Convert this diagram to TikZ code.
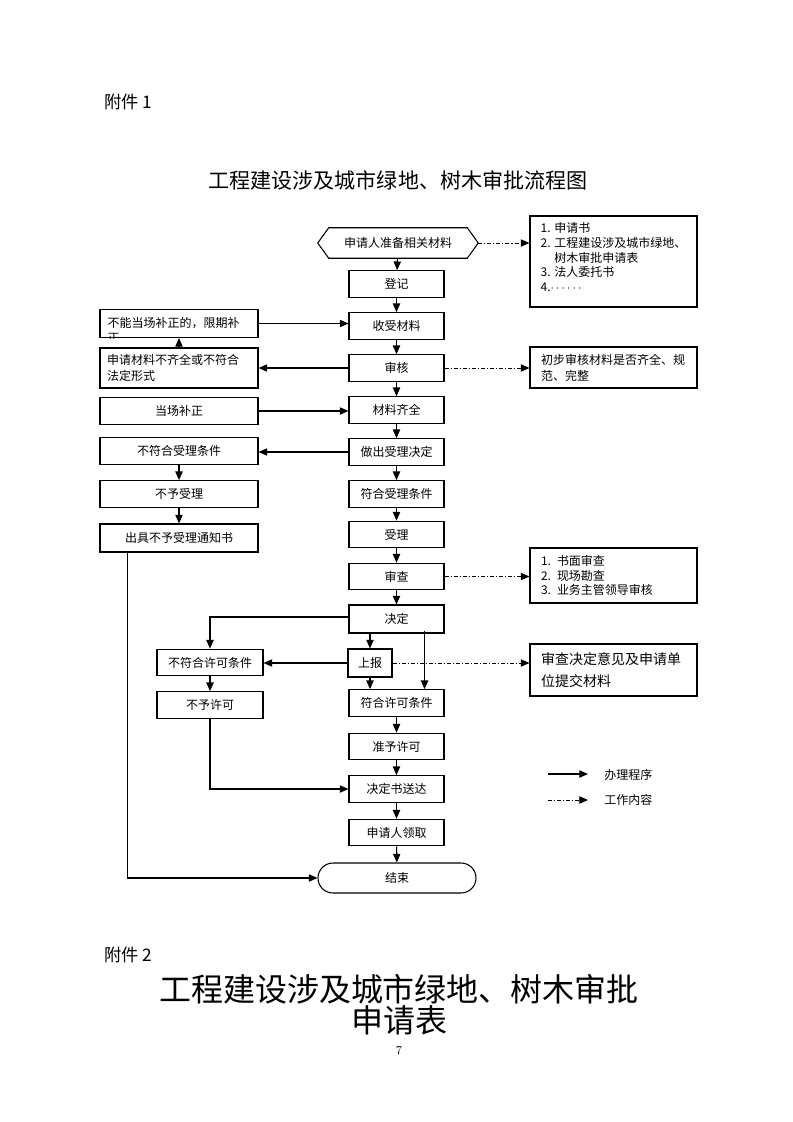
\documentclass[tikz,border=0pt]{standalone}
\usepackage{fontspec}
\newfontfamily\cjk{Noto Sans CJK SC}
\usetikzlibrary{arrows.meta,calc,shapes.misc}
\begin{document}
\begin{tikzpicture}[x=0.75pt,y=-0.75pt,
  txt/.style={font=\cjk\fontsize{9pt}{11pt}\selectfont},
  box/.style={txt,draw,line width=0.8pt,inner sep=0pt,minimum height=20pt},
  mainbox/.style={box,minimum width=71.25pt},
  leftbox/.style={box,minimum width=118.5pt},
  lbox/.style={box,minimum width=79.5pt},
  rbox/.style={box,minimum width=125.25pt},
  lefttext/.style={align=left,text width=108pt,inner xsep=5.25pt},
  flow/.style={line width=0.8pt,-{Triangle[length=6.5pt,width=5.5pt]}},
  work/.style={line width=0.6pt,dash pattern=on 3pt off 1.5pt on 0.8pt off 1.5pt,-{Triangle[length=6.5pt,width=5.5pt]}},
  plain/.style={line width=0.8pt}
  ]
\useasboundingbox (0,0) rectangle (793,1122);

% headings
\node[anchor=west,font=\cjk\fontsize{13pt}{15pt}\selectfont,inner sep=0pt] (fj1) at (104,102) {附件 1};
\node[font=\cjk\fontsize{15.8pt}{18pt}\selectfont,inner sep=0pt] (title) at (398,180) {工程建设涉及城市绿地、树木审批流程图};

% preparation hexagon
\node[txt,minimum width=120pt,minimum height=22.5pt,inner sep=0pt] (prep) at (398,243) {申请人准备相关材料};
\draw[plain] (prep.west) -- ($(prep.north west)+(11,0)$) -- ($(prep.north east)+(-11,0)$) -- (prep.east) -- ($(prep.south east)+(-11,0)$) -- ($(prep.south west)+(11,0)$) -- cycle;

% main column
\node[mainbox] (dengji) at (396.5,284) {登记};
\node[mainbox] (shoushou) at (396.5,326) {收受材料};
\node[mainbox] (shenhe) at (396.5,368) {审核};
\node[mainbox] (qiquan) at (396.5,410) {材料齐全};
\node[mainbox] (zuochu) at (396.5,452) {做出受理决定};
\node[mainbox] (fuheshouli) at (396.5,494) {符合受理条件};
\node[mainbox] (shouli) at (396.5,534.5) {受理};
\node[mainbox] (shencha) at (396.5,576.5) {审查};
\node[mainbox,minimum height=21pt] (jueding) at (396.5,619) {决定};
\node[box,minimum width=33pt,minimum height=21pt] (shangbao) at (370,663) {上报};
\node[mainbox] (fuhexuke) at (396.5,703) {符合许可条件};
\node[mainbox] (zhunyu) at (396.5,746.5) {准予许可};
\node[mainbox] (songda) at (396.5,789) {决定书送达};
\node[mainbox] (lingqu) at (396.5,832.5) {申请人领取};
\node[box,rounded rectangle,minimum width=118.5pt,minimum height=22.5pt] (jieshu) at (397,878) {结束};

% left column
\node[leftbox,minimum height=21pt] (buneng) at (179,323.5) {};
\begin{scope}
  \clip (buneng.south west) rectangle (buneng.north east);
  \node[txt,anchor=north west,align=left,inner sep=0pt] (bunengtext) at ($(buneng.north west)+(8,8)$) {不能当场补正的，限期补\\正};
\end{scope}
\node[leftbox,lefttext,minimum height=30pt,font=\cjk\fontsize{9pt}{12pt}\selectfont] (buqi) at (179,368) {申请材料不齐全或不符合\\法定形式};
\node[leftbox] (dangchang) at (179,411) {当场补正};
\node[leftbox] (bufushouli) at (179,451) {不符合受理条件};
\node[leftbox] (buyushouli) at (179,494) {不予受理};
\node[leftbox,minimum height=21pt] (chuju) at (179,538) {出具不予受理通知书};
\node[lbox] (bufuxuke) at (210,662.5) {不符合许可条件};
\node[lbox] (buyuxuke) at (210,705) {不予许可};

% right column
\node[rbox,minimum height=68.25pt] (list1) at (613.5,261.5) {};
\node[txt,anchor=north west,align=left,inner sep=0pt] (list1text) at ($(list1.north west)+(11,7)$) {1. 申请书\\2. 工程建设涉及城市绿地、\\\phantom{2. }树木审批申请表\\3. 法人委托书\\4.$\cdots\cdots$};
\node[rbox,lefttext,text width=108.75pt,inner xsep=8.25pt,minimum height=30.75pt,font=\cjk\fontsize{9pt}{12pt}\selectfont] (chubu) at (613.5,367.5) {初步审核材料是否齐全、规\\范、完整};
\node[rbox,lefttext,text width=108.75pt,inner xsep=8.25pt,minimum height=41.25pt] (list2) at (613.5,575.5) {1. 书面审查\\2. 现场勘查\\3. 业务主管领导审核};
\node[rbox,lefttext,text width=108.75pt,inner xsep=8.25pt,minimum height=39pt,font=\cjk\fontsize{10.5pt}{16.5pt}\selectfont] (yijian) at (613.5,670) {审查决定意见及申请单\\位提交材料};

% main flow
\draw[flow] (prep) -- (dengji);
\draw[flow] (dengji) -- (shoushou);
\draw[flow] (shoushou) -- (shenhe);
\draw[flow] (shenhe) -- (qiquan);
\draw[flow] (qiquan) -- (zuochu);
\draw[flow] (zuochu) -- (fuheshouli);
\draw[flow] (fuheshouli) -- (shouli);
\draw[flow] (shouli) -- (shencha);
\draw[flow] (shencha) -- (jueding);
\draw[flow] (jueding.south -| shangbao.north) -- (shangbao.north);
\draw[flow] ($(jueding.south east)+(-20,-3)$) -- ($(fuhexuke.north east)+(-20,0)$);
\draw[flow] (shangbao.south) -- (shangbao.south |- fuhexuke.north);
\draw[flow] (fuhexuke) -- (zhunyu);
\draw[flow] (zhunyu) -- (songda);
\draw[flow] (songda) -- (lingqu);
\draw[flow] (lingqu) -- (jieshu);

% left flows
\draw[flow] (shenhe.west) -- (buqi.east);
\draw[flow] (buqi.north) -- (buneng.south);
\draw[flow] (buneng.east) -- (buneng.east -| shoushou.west);
\draw[flow] (dangchang.east) -- (dangchang.east -| qiquan.west);
\draw[flow] (zuochu.west) -- (zuochu.west -| bufushouli.east);
\draw[flow] (bufushouli) -- (buyushouli);
\draw[flow] (buyushouli) -- (chuju);
\draw[flow] ($(chuju.south west)+(28,0)$) |- (jieshu.west);
\draw[flow] ($(jueding.west)+(0,-2)$) -| (bufuxuke.north);
\draw[flow] (shangbao.west) -- (shangbao.west -| bufuxuke.east);
\draw[flow] (bufuxuke) -- (buyuxuke);
\draw[flow] (buyuxuke.south) |- (songda.west);

% work content
\draw[work] (prep.east) -- (prep.east -| list1.west);
\draw[work] (shenhe.east) -- (shenhe.east -| chubu.west);
\draw[work] (shencha.east) -- (shencha.east -| list2.west);
\draw[work] (shangbao.east) -- (shangbao.east -| yijian.west);

% legend
\coordinate (lga) at (548,774);
\coordinate (lgb) at (588,774);
\coordinate (lgc) at (548,800);
\coordinate (lgd) at (588,800);
\draw[flow] (lga) -- (lgb);
\draw[work] (lgc) -- (lgd);
\node[txt,anchor=west,inner sep=0pt] (lg1) at (604,775) {办理程序};
\node[txt,anchor=west,inner sep=0pt] (lg2) at (604,800) {工作内容};

% attachment 2
\node[anchor=west,font=\cjk\fontsize{13pt}{15pt}\selectfont,inner sep=0pt] (fj2) at (104,955) {附件 2};
\node[font=\cjk\fontsize{24pt}{23pt}\selectfont,align=center,inner sep=0pt] (title2) at (399,1005) {工程建设涉及城市绿地、树木审批\\申请表};
\node[font=\fontsize{9pt}{10pt}\selectfont,inner sep=0pt] (pageno) at (399,1051) {7};
\end{tikzpicture}
\end{document}
